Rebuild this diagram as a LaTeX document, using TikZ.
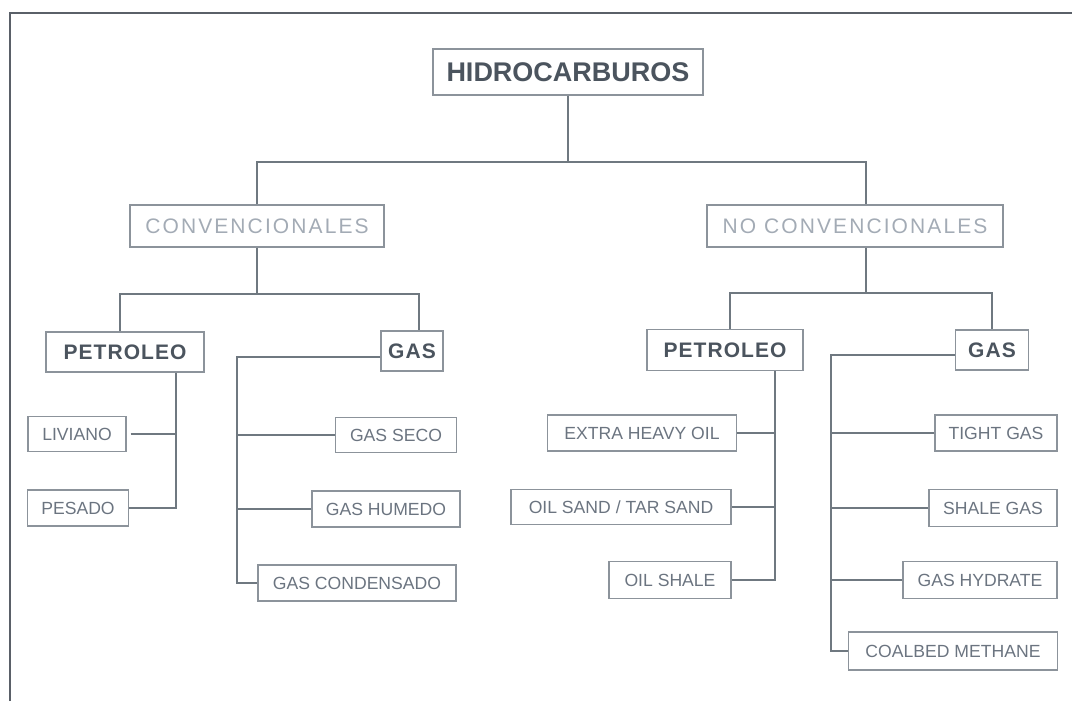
\documentclass[tikz,border=0pt]{standalone}
\usepackage{fontspec}
\setmainfont{Liberation Sans}
\newfontfamily\widefont[LetterSpace=10]{Liberation Sans}
\newfontfamily\semiwidefont[LetterSpace=5]{Liberation Sans}
\usepackage{tikz}
\newdimen\unitpx \unitpx=0.75pt
\definecolor{boxgray}{HTML}{8C939B}
\definecolor{linegray}{HTML}{6F7880}
\definecolor{darktext}{HTML}{4B545E}
\definecolor{palettext}{HTML}{A3ABB5}
\definecolor{leaftext}{HTML}{6B7480}
\definecolor{framegray}{HTML}{5A6068}
\begin{document}
\begin{tikzpicture}[x=0.75pt, y=-0.75pt,
		box/.style = {draw=boxgray, line width=1pt, inner sep=0pt, anchor=center},
		topbox/.style = {box, text=darktext, font=\fontsize{20.25}{22}\selectfont\bfseries},
		classbox/.style = {box, text=palettext, font=\widefont\fontsize{15.75}{18}\selectfont},
		kindbox/.style = {box, text=darktext, font=\semiwidefont\fontsize{15.75}{18}\selectfont\bfseries},
		leafbox/.style = {box, text=leaftext, font=\fontsize{13.2}{15}\selectfont},
		link/.style = {draw=linegray, line width=0.9pt},
		frame/.style = {draw=framegray, line width=1.8pt}]
		\useasboundingbox (0, 0) rectangle (1072, 701);
		\draw[frame] (10, 701) -- (10, 13) -- (1072, 13);
		% upper levels
		\node[topbox, minimum width=270\unitpx, minimum height=46\unitpx] (hidro) at (568, 72) {HIDROCARBUROS};
		\node[classbox, minimum width=254\unitpx, minimum height=42\unitpx] (conv) at (257, 226) {CONVENCIONALES};
		\node[classbox, minimum width=296\unitpx, minimum height=42\unitpx] (noconv) at (855, 226) {NO CONVENCIONALES};
		\node[kindbox, minimum width=158\unitpx, minimum height=40\unitpx] (petl) at (125, 352) {PETROLEO};
		\node[kindbox, minimum width=62\unitpx, minimum height=40\unitpx] (gasl) at (412, 351) {GAS};
		\node[kindbox, minimum width=156\unitpx, minimum height=41\unitpx] (petr) at (725, 350) {PETROLEO};
		\node[kindbox, minimum width=73\unitpx, minimum height=40\unitpx] (gasr) at (992, 350) {GAS};
		% leaves
		\node[leafbox, minimum width=98\unitpx, minimum height=35\unitpx] (liviano) at (77, 434) {LIVIANO};
		\node[leafbox, minimum width=101\unitpx, minimum height=36\unitpx] (pesado) at (78, 508) {PESADO};
		\node[leafbox, minimum width=121\unitpx, minimum height=35\unitpx] (gseco) at (396, 435) {GAS SECO};
		\node[leafbox, minimum width=148\unitpx, minimum height=36\unitpx] (ghumedo) at (386, 509) {GAS HUMEDO};
		\node[leafbox, minimum width=198\unitpx, minimum height=36\unitpx] (gcond) at (357, 583) {GAS CONDENSADO};
		\node[leafbox, minimum width=189\unitpx, minimum height=36\unitpx] (extra) at (642, 433) {EXTRA HEAVY OIL};
		\node[leafbox, minimum width=220\unitpx, minimum height=35\unitpx] (oilsand) at (621, 507) {OIL SAND / TAR SAND};
		\node[leafbox, minimum width=122\unitpx, minimum height=37\unitpx] (oilshale) at (670, 580) {OIL SHALE};
		\node[leafbox, minimum width=122\unitpx, minimum height=36\unitpx] (tight) at (996, 433) {TIGHT GAS};
		\node[leafbox, minimum width=128\unitpx, minimum height=37\unitpx] (shale) at (993, 508) {SHALE GAS};
		\node[leafbox, minimum width=154\unitpx, minimum height=37\unitpx] (hydrate) at (980, 580) {GAS HYDRATE};
		\node[leafbox, minimum width=209\unitpx, minimum height=38\unitpx] (coalbed) at (953, 651) {COALBED METHANE};
		% junctions
		\coordinate (hj) at (568, 162);
		\coordinate (cj) at (257, 294);
		\coordinate (ncj) at (866, 293);
		\coordinate (plv) at (176, 450);
		\coordinate (glv) at (237, 450);
		\coordinate (prv) at (775, 450);
		\coordinate (grv) at (831, 450);
		% connectors
		\draw[link] (hidro.south) -- (hj);
		\draw[link] (conv.north) |- (hj) -| ([xshift=8.25pt]noconv.north);
		\draw[link] (conv.south) -- (cj);
		\draw[link] ([xshift=-3.75pt]petl.north) |- (cj) -| ([xshift=5.25pt]gasl.north);
		\draw[link] ([xshift=8.25pt]noconv.south) -- (ncj);
		\draw[link] ([xshift=3.75pt]petr.north) |- (ncj) -| (gasr.north);
		\draw[link] (petl.south -| plv) |- (pesado.east);
		\draw[link, shorten <=3pt] (liviano.east) -- (liviano.east -| plv);
		\draw[link] ([yshift=-4.5pt]gasl.west) -| (glv) |- (gcond.west);
		\draw[link] (gseco.west) -- (gseco.west -| glv);
		\draw[link] (ghumedo.west) -- (ghumedo.west -| glv);
		\draw[link] (petr.south -| prv) |- (oilshale.east);
		\draw[link] (extra.east) -- (extra.east -| prv);
		\draw[link] (oilsand.east) -- (oilsand.east -| prv);
		\draw[link] ([yshift=-3.75pt]gasr.west) -| (grv) |- (coalbed.west);
		\draw[link] (tight.west) -- (tight.west -| grv);
		\draw[link] (shale.west) -- (shale.west -| grv);
		\draw[link] (hydrate.west) -- (hydrate.west -| grv);
	\end{tikzpicture}
\end{document}
